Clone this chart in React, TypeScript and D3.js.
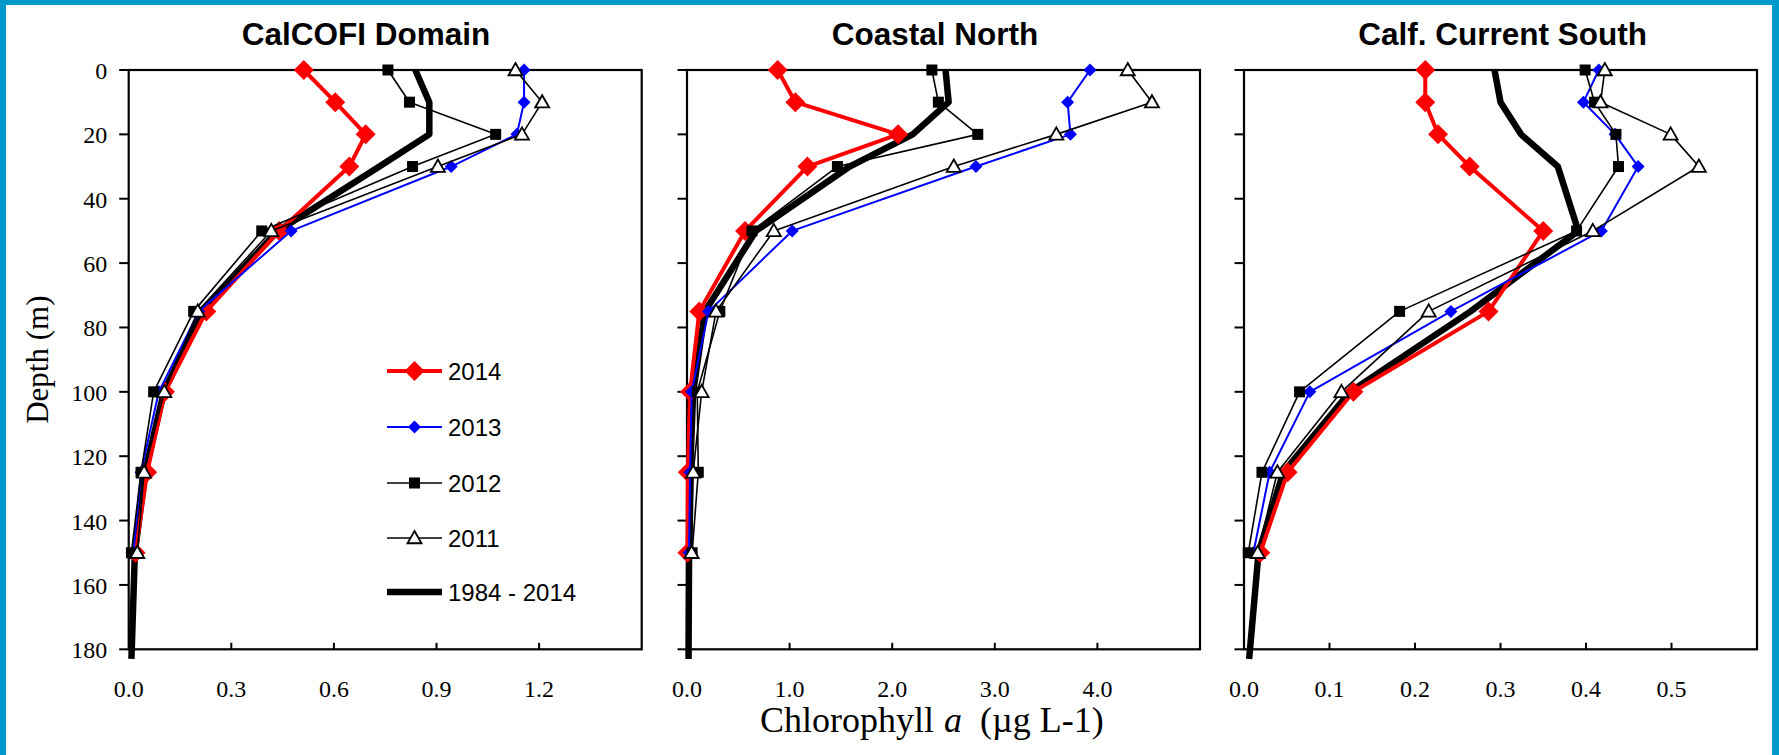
import React from 'react';
import * as d3 from 'd3';

// ---------- data ----------
const depths = [0, 10, 20, 30, 50, 75, 100, 125, 150];
const climDepths = [0, 10, 20, 30, 50, 75, 100, 125, 150, 183];

const panelTitles = ['CalCOFI Domain', 'Coastal North', 'Calf. Current South'];
const xMaxes = [1.5, 5, 0.6];
const xTickValues = [
  [0, 0.3, 0.6, 0.9, 1.2, 1.5],
  [0, 1, 2, 3, 4, 5],
  [0, 0.1, 0.2, 0.3, 0.4, 0.5, 0.6],
];
const yTickValues = [0, 20, 40, 60, 80, 100, 120, 140, 160, 180];

// Chlorophyll a per region: [CalCOFI Domain, Coastal North, Calf. Current South]
const chl2014 = [
  [0.512, 0.604, 0.693, 0.645, 0.44, 0.227, 0.106, 0.054, 0.02],
  [0.884, 1.056, 2.058, 1.174, 0.566, 0.12, 0.03, 0.008, 0.004],
  [0.212, 0.212, 0.227, 0.264, 0.35, 0.286, 0.128, 0.051, 0.019],
];
const chl2013 = [
  [1.156, 1.156, 1.135, 0.943, 0.475, 0.205, 0.088, 0.036, 0.014],
  [3.928, 3.71, 3.737, 2.816, 1.025, 0.21, 0.045, 0.03, 0.02],
  [0.415, 0.397, 0.434, 0.461, 0.418, 0.242, 0.077, 0.03, 0.011],
];
const chl2012 = [
  [0.758, 0.821, 1.073, 0.83, 0.389, 0.19, 0.073, 0.036, 0.008],
  [2.387, 2.45, 2.834, 1.466, 0.633, 0.32, 0.1, 0.11, 0.05],
  [0.399, 0.41, 0.435, 0.438, 0.389, 0.182, 0.065, 0.021, 0.005],
];
const chl2011 = [
  [1.131, 1.209, 1.15, 0.904, 0.417, 0.202, 0.104, 0.045, 0.025],
  [4.296, 4.532, 3.6, 2.6, 0.846, 0.283, 0.143, 0.06, 0.045],
  [0.422, 0.417, 0.499, 0.532, 0.408, 0.216, 0.114, 0.039, 0.016],
];
const chlClim = [
  [0.838, 0.879, 0.879, 0.733, 0.436, 0.214, 0.103, 0.048, 0.018, 0.008],
  [2.52, 2.55, 2.2, 1.585, 0.672, 0.175, 0.06, 0.03, 0.02, 0.015],
  [0.293, 0.3, 0.324, 0.367, 0.391, 0.265, 0.124, 0.046, 0.017, 0.006],
];

const legendLabels = ['2014', '2013', '2012', '2011', '1984 - 2014'];

// ---------- layout ----------
const W = 1779;
const H = 755;
const panelLefts = [128.7, 687, 1244];
const panelWidth = 513;
const plotTop = 70;
const plotBottom = 649.3;
const titleCenters = [366, 935, 1502.6];
const SERIF = "'Liberation Serif', 'Times New Roman', serif";
const SANS = "'Liberation Sans', Arial, sans-serif";
const BORDER = '#0099CC';

type Style = { color: string; width: number; marker: string; size: number };
const styles: Record<string, Style> = {
  '2014': { color: '#FF0000', width: 4, marker: 'diamond', size: 10 },
  '2013': { color: '#0000FF', width: 2, marker: 'diamond', size: 6.5 },
  '2012': { color: '#000000', width: 1.6, marker: 'square', size: 5.5 },
  '2011': { color: '#000000', width: 1.6, marker: 'triangle', size: 7 },
  '1984 - 2014': { color: '#000000', width: 6.5, marker: 'none', size: 0 },
};

function Marker({ x, y, s }: { x: number; y: number; s: Style }) {
  if (s.marker === 'diamond') {
    const r = s.size;
    return <path d={`M${x},${y - r}L${x + r},${y}L${x},${y + r}L${x - r},${y}Z`} fill={s.color} />;
  }
  if (s.marker === 'square') {
    const r = s.size;
    return <rect x={x - r} y={y - r} width={2 * r} height={2 * r} fill={s.color} />;
  }
  if (s.marker === 'triangle') {
    const r = s.size;
    return (
      <path
        d={`M${x},${y - r}L${x + r},${y + r * 0.75}L${x - r},${y + r * 0.75}Z`}
        fill="#ffffff"
        stroke="#000000"
        strokeWidth={1.8}
        strokeLinejoin="miter"
      />
    );
  }
  return null;
}

function Panel({ i }: { i: number }) {
  const left = panelLefts[i];
  const x = d3.scaleLinear().domain([0, xMaxes[i]]).range([left, left + panelWidth]);
  const y = d3.scaleLinear().domain([0, 180]).range([plotTop, plotBottom]);
  const line = d3
    .line<[number, number]>()
    .x((d) => x(d[0]))
    .y((d) => y(d[1]));

  const series = [
    { name: '1984 - 2014', vals: chlClim[i], ds: climDepths },
    { name: '2014', vals: chl2014[i], ds: depths },
    { name: '2013', vals: chl2013[i], ds: depths },
    { name: '2012', vals: chl2012[i], ds: depths },
    { name: '2011', vals: chl2011[i], ds: depths },
  ];
  const fmt = d3.format('.1f');
  const ticks = xTickValues[i];

  return (
    <g>
      {/* frame */}
      <rect
        x={left}
        y={plotTop}
        width={panelWidth}
        height={plotBottom - plotTop}
        fill="none"
        stroke="#000"
        strokeWidth={2.2}
      />
      {/* y ticks (outside) */}
      {yTickValues.map((t) => (
        <line key={'yt' + t} x1={left - 9.5} x2={left} y1={y(t)} y2={y(t)} stroke="#000" strokeWidth={2} />
      ))}
      {/* x ticks (inside) */}
      {ticks.slice(1, -1).map((t) => (
        <line key={'xt' + t} x1={x(t)} x2={x(t)} y1={plotBottom} y2={plotBottom - 6.5} stroke="#000" strokeWidth={2} />
      ))}
      {/* x tick labels */}
      {ticks.slice(0, -1).map((t) => (
        <text key={'xl' + t} x={x(t)} y={697} textAnchor="middle" fontFamily={SERIF} fontSize={24} fill="#000">
          {fmt(t)}
        </text>
      ))}
      {/* y tick labels on first panel only */}
      {i === 0 &&
        yTickValues.map((t) => (
          <text key={'yl' + t} x={left - 21.4} y={y(t) + 9} textAnchor="end" fontFamily={SERIF} fontSize={24} fill="#000">
            {t}
          </text>
        ))}
      {/* series */}
      {series.map((s) => {
        const st = styles[s.name];
        const pts: [number, number][] = s.vals.map((v, k) => [v, s.ds[k]]);
        return (
          <g key={s.name}>
            <path d={line(pts) || ''} fill="none" stroke={st.color} strokeWidth={st.width} strokeLinejoin="round" />
            {pts.map((p, k) => (
              <Marker key={k} x={x(p[0])} y={y(p[1])} s={st} />
            ))}
          </g>
        );
      })}
      {/* title */}
      <text x={titleCenters[i]} y={45} textAnchor="middle" fontFamily={SANS} fontWeight="bold" fontSize={31.5} fill="#000">
        {panelTitles[i]}
      </text>
    </g>
  );
}

function Legend() {
  const x1 = 387;
  const x2 = 442;
  const rows = [371, 427, 483, 538, 592];
  return (
    <g>
      {legendLabels.map((lab, k) => {
        const st = styles[lab];
        const yy = rows[k];
        return (
          <g key={lab}>
            <line x1={x1} x2={x2} y1={yy} y2={yy} stroke={st.color} strokeWidth={st.width} />
            <Marker x={(x1 + x2) / 2} y={yy} s={st} />
            <text x={448} y={yy + 8.5} fontFamily={SANS} fontSize={24} fill="#000">
              {lab}
            </text>
          </g>
        );
      })}
    </g>
  );
}

export default function App() {
  return (
    <svg
      width={W}
      height={H}
      viewBox={`0 0 ${W} ${H}`}
      style={{ position: 'absolute', left: 0, top: 0, background: '#fff' }}
    >
      <rect x={0} y={0} width={W} height={H} fill="#fff" />
      {[0, 1, 2].map((i) => (
        <Panel key={i} i={i} />
      ))}
      <Legend />
      {/* axis titles */}
      <text
        transform={`translate(48, ${(plotTop + plotBottom) / 2}) rotate(-90)`}
        textAnchor="middle"
        fontFamily={SERIF}
        fontSize={31}
        fill="#000"
      >
        Depth (m)
      </text>
      <text x={760} y={732} fontFamily={SERIF} fontSize={36} fill="#000">
        Chlorophyll
        <tspan dx={10} fontStyle="italic">a</tspan>
        <tspan dx={18}>(µg L-1)</tspan>
      </text>
      {/* blue frame */}
      <rect x={0} y={0} width={W} height={5} fill={BORDER} />
      <rect x={0} y={0} width={6} height={H} fill={BORDER} />
      <rect x={W - 7} y={0} width={7} height={H} fill={BORDER} />
    </svg>
  );
}
